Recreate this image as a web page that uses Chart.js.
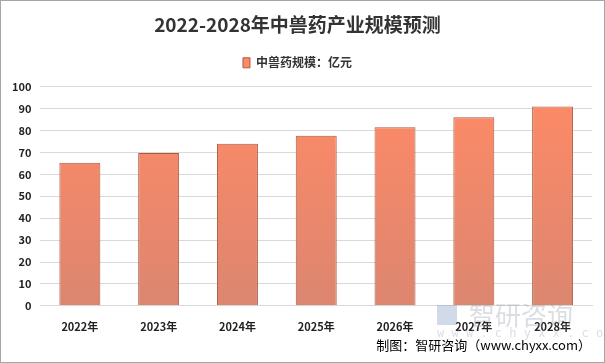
<!DOCTYPE html>
<html>
<head>
<meta charset="utf-8">
<script src="https://cdn.jsdelivr.net/npm/chart.js@4.4.1/dist/chart.umd.min.js"></script>
<style>
  html, body { margin: 0; padding: 0; background: #fff; }
  #wrap { width: 605px; height: 363px; position: relative; box-sizing: border-box; border: 1px solid #a6a6a6; }
  canvas { display: block; }
</style>
</head>
<body>
<div id="wrap"><canvas id="barChart" width="603" height="361"></canvas></div>
<script>
// chart data
const years = ['2022年', '2023年', '2024年', '2025年', '2026年', '2027年', '2028年'];
const scaleValues = [65.3, 69.8, 74.0, 77.7, 81.5, 86.1, 91.0];
const seriesName = '中兽药规模：亿元';
const titleText = '2022-2028年中兽药产业规模预测';
const footerText = '制图：智研咨询（www.chyxx.com）';

const cjk = "'Noto Sans CJK SC', 'Noto Sans', sans-serif";

// orange bar gradient, lighter at top
function barFill(context) {
  const chart = context.chart;
  const area = chart.chartArea;
  if (!area) return '#f4896a';
  const g = chart.ctx.createLinearGradient(0, area.top, 0, area.bottom);
  g.addColorStop(0, '#ff8a66');
  g.addColorStop(1, '#dc8670');
  return g;
}

// extra room under the legend
const legendGap = {
  id: 'legendGap',
  beforeInit(chart) {
    const fit = chart.legend.fit;
    chart.legend.fit = function () {
      fit.bind(chart.legend)();
      this.height += 8;
    };
  }
};

// footer + watermark drawn on top
const extras = {
  id: 'extras',
  afterDraw(chart) {
    const c = chart.ctx;
    c.save();
    c.fillStyle = 'rgba(150,160,175,0.35)';
    c.font = "26px " + cjk;
    c.textAlign = 'left';
    c.textBaseline = 'middle';
    c.fillText('智研咨询', 468, 314);
    c.font = "12px 'DejaVu Sans Mono', monospace";
    c.fillText('w w w . c h y x x . c o m', 436, 333);
    c.fillStyle = 'rgba(120,150,190,0.35)';
    c.fillRect(436, 304, 20, 20);
    c.fillStyle = '#000';
    c.font = "13px 'Noto Sans CJK SC', sans-serif";
    c.textAlign = 'right';
    c.fillText(footerText, 590, 344);
    c.restore();
  }
};

new Chart(document.getElementById('barChart').getContext('2d'), {
  type: 'bar',
  data: {
    labels: years,
    datasets: [{
      label: seriesName,
      data: scaleValues,
      backgroundColor: barFill,
      borderColor: '#a85a45',
      borderWidth: 1,
      barPercentage: 0.52,
      categoryPercentage: 1.0
    }]
  },
  options: {
    responsive: false,
    animation: false,
    layout: { padding: { left: 2, right: 12, top: 4, bottom: 23 } },
    plugins: {
      title: {
        display: true,
        text: titleText,
        color: '#333',
        font: { family: cjk, size: 19, weight: 'bold' },
        padding: { top: 8, bottom: 13 }
      },
      legend: {
        display: true,
        position: 'top',
        labels: {
          color: '#333',
          boxWidth: 7,
          boxHeight: 10,
          font: { family: cjk, size: 12, weight: 'bold' },
          padding: 8
        }
      },
      tooltip: { enabled: false }
    },
    scales: {
      x: {
        grid: { display: false },
        border: { color: '#d9d9d9' },
        ticks: { color: '#222', font: { family: cjk, size: 11, weight: 'bold' }, padding: 6 }
      },
      y: {
        min: 0,
        max: 100,
        ticks: { stepSize: 10, color: '#222', font: { family: cjk, size: 11, weight: 'bold' }, padding: 9 },
        grid: { color: '#d9d9d9', drawTicks: false },
        border: { display: false }
      }
    }
  },
  plugins: [legendGap, extras]
});
</script>
</body>
</html>
